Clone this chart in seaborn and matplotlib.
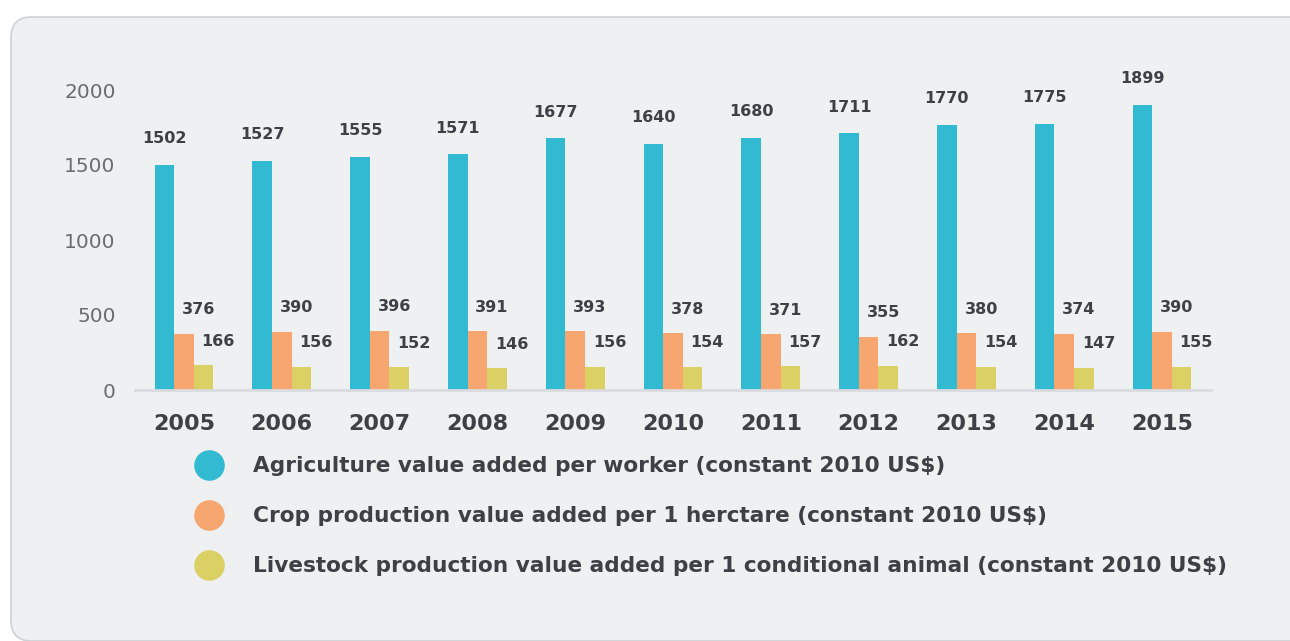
import numpy as np
import pandas as pd
import matplotlib
matplotlib.use("Agg")
import matplotlib.pyplot as plt
from matplotlib.patches import FancyBboxPatch
from matplotlib.lines import Line2D
import seaborn as sns

years = ["2005", "2006", "2007", "2008", "2009", "2010", "2011", "2012", "2013", "2014", "2015"]
agri_per_worker = [1502, 1527, 1555, 1571, 1677, 1640, 1680, 1711, 1770, 1775, 1899]
crop_per_ha = [376, 390, 396, 391, 393, 378, 371, 355, 380, 374, 390]
livestock_per_animal = [166, 156, 152, 146, 156, 154, 157, 162, 154, 147, 155]

series_names = [
    "Agriculture value added per worker (constant 2010 US$)",
    "Crop production value added per 1 herctare (constant 2010 US$)",
    "Livestock production value added per 1 conditional animal (constant 2010 US$)",
]
colors = ["#33BAD3", "#F6A66E", "#DBD064"]

df = pd.DataFrame({
    "year": years * 3,
    "value": agri_per_worker + crop_per_ha + livestock_per_animal,
    "series": [series_names[0]] * 11 + [series_names[1]] * 11 + [series_names[2]] * 11,
})

sns.set_style("white")
plt.rcParams["font.family"] = ["DejaVu Sans"]
text_col = "#3d4045"

fig = plt.figure(figsize=(12.9, 6.41), dpi=100)
fig.patch.set_facecolor("white")

# rounded grey panel behind everything
panel = FancyBboxPatch((11 / 1290, 0.0 / 641), 1320 / 1290, 624 / 641,
                       boxstyle="round,pad=0,rounding_size=0.016",
                       transform=fig.transFigure, facecolor="#eff0f2",
                       edgecolor="#cdd2d6", linewidth=1.2, mutation_aspect=2.0,
                       zorder=-10)
fig.patches.append(panel)

ax = fig.add_axes([135 / 1290, 251 / 641, 1076 / 1290, 300 / 641])
ax.set_facecolor("none")

sns.barplot(data=df, x="year", y="value", hue="series", palette=colors,
            width=0.6, gap=0, saturation=1, ax=ax, legend=False, errorbar=None,
            linewidth=0, edgecolor="none")

ax.set_xlim(-0.5, 10.5)
ax.set_ylim(0, 2000)
ax.set_yticks([0, 500, 1000, 1500, 2000])
ax.tick_params(axis="y", labelsize=14.5, labelcolor="#6b6d70", length=0, pad=14)
ax.tick_params(axis="x", labelsize=16, labelcolor=text_col, length=0, pad=17)
for lab in ax.get_xticklabels():
    lab.set_fontweight("bold")
ax.set_xlabel("")
ax.set_ylabel("")
for s in ["top", "right", "left"]:
    ax.spines[s].set_visible(False)
ax.spines["bottom"].set_color("#d9dbde")
ax.spines["bottom"].set_linewidth(2)

# value labels
offsets = [(0.0, 175), (0.15, 160), (0.15, 160)]
for container, (dx, dy) in zip(ax.containers, offsets):
    for bar in container:
        h = bar.get_height()
        xc = bar.get_x() + bar.get_width() / 2 + dx
        ax.text(xc, h + dy, f"{int(h)}", ha="center", va="center",
                fontsize=11.5, fontweight="bold", color=text_col, clip_on=False)

handles = [Line2D([0], [0], marker="o", linestyle="", markersize=21,
                  markerfacecolor=c, markeredgecolor=c) for c in colors]
fig.legend(handles, series_names, loc="upper left",
           bbox_to_anchor=(176 / 1290, 1 - 437 / 641), frameon=False,
           prop={"size": 15.6, "weight": "bold"}, labelcolor=text_col,
           handletextpad=1.45, labelspacing=1.38, handlelength=1.2)

fig.savefig("out.png", dpi=100)
plt.close("all")
